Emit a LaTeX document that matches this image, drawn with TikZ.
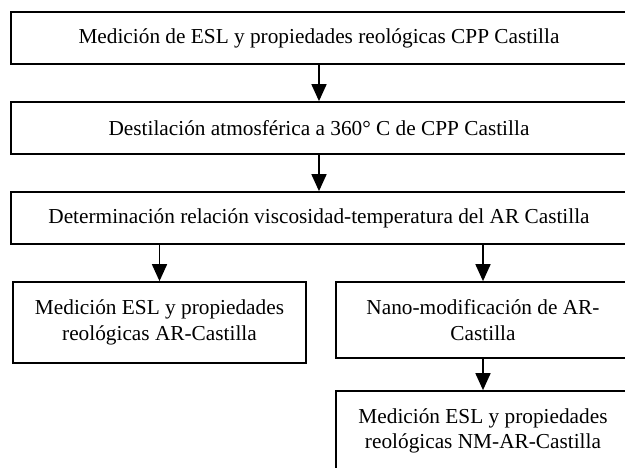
\documentclass[tikz,border=0pt]{standalone}
\usepackage{fontspec}
\setmainfont{Liberation Serif}
\usetikzlibrary{arrows.meta}

\begin{document}
\begin{tikzpicture}[x=1pt, y=-1pt,
  proc/.style={rectangle, draw=black, line width=1.7pt, inner sep=0pt, align=center, font=\fontsize{21.3}{25.5}\selectfont},
  flow/.style={line width=1.7pt, -{Triangle[width=15pt, length=17pt]}}]
\useasboundingbox (0, 0) rectangle (625, 468);
\clip (0, 0) rectangle (625, 468);

\node[proc, minimum width=616pt, minimum height=52pt] (p-0) at (319, 38) {Medición de ESL y propiedades reológicas CPP Castilla};
\node[proc, minimum width=616pt, minimum height=52pt] (p-1) at (319, 128) {Destilación atmosférica a 360° C de CPP Castilla};
\node[proc, minimum width=616pt, minimum height=52pt] (p-2) at (319, 218) {Determinación relación viscosidad-temperatura del AR Castilla};

\node[proc, minimum width=293pt, minimum height=81pt] (p-3) at (159.5, 322.5) {Medición ESL y propiedades\\reológicas AR-Castilla};
\node[proc, minimum width=294pt, minimum height=76pt] (p-4) at (483, 320) {Nano-modificación de AR-\\Castilla};
\node[proc, minimum width=294pt, minimum height=80pt] (p-5) at (483, 431) {Medición ESL y propiedades\\reológicas NM-AR-Castilla};

\draw[flow] (p-0) -- (p-1);
\draw[flow] (p-1) -- (p-2);
\draw[flow] (p-3 |- p-2.south) -- (p-3.north);
\draw[flow] (p-4 |- p-2.south) -- (p-4.north);
\draw[flow] (p-4) -- (p-5);
\end{tikzpicture}
\end{document}
